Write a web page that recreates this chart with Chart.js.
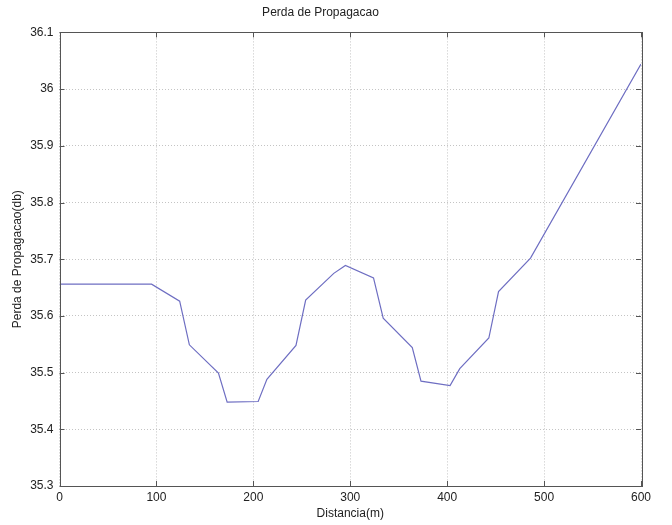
<!DOCTYPE html>
<html>
<head>
<meta charset="utf-8">
<script src="https://cdn.jsdelivr.net/npm/chart.js@4.4.1/dist/chart.umd.min.js"></script>
<style>
  html, body { margin: 0; padding: 0; background: #fff; }
  #wrap { width: 672px; height: 525px; }
</style>
</head>
<body>
<div id="wrap"><canvas id="grafico" width="672" height="525"></canvas></div>
<script>
// dados
var distancia = [0, 95, 124, 134, 164, 173, 205, 214, 244, 254, 283, 295, 324, 334, 364, 373, 403, 413, 443, 453, 486, 600];
var perda = [35.656, 35.656, 35.626, 35.549, 35.499, 35.448, 35.449, 35.488, 35.548, 35.628, 35.675, 35.689,
             35.667, 35.596, 35.544, 35.485, 35.477, 35.507, 35.561, 35.643, 35.702, 36.044];
var xTicks = [0, 100, 200, 300, 400, 500, 600];
var yTicks = [35.3, 35.4, 35.5, 35.6, 35.7, 35.8, 35.9, 36, 36.1];

var fonte = "'Liberation Sans', Arial, sans-serif";
var corTexto = "#222";

var pontos = distancia.map(function (d, i) { return { x: d, y: perda[i] }; });

// caixa e marcas internas estilo matlab
var caixaPlugin = {
    id: "caixa",
    afterDraw: function (chart) {
        var ctx = chart.ctx, a = chart.chartArea;
        var sx = chart.scales.x, sy = chart.scales.y;
        ctx.save();
        ctx.strokeStyle = "#555";
        ctx.lineWidth = 1;
        ctx.setLineDash([]);
        ctx.strokeRect(Math.round(a.left) + 0.5, Math.round(a.top) + 0.5,
            Math.round(a.right - a.left), Math.round(a.bottom - a.top));
        ctx.beginPath();
        xTicks.forEach(function (t) {
            var px = Math.round(sx.getPixelForValue(t)) + 0.5;
            ctx.moveTo(px, a.bottom); ctx.lineTo(px, a.bottom - 5);
            ctx.moveTo(px, a.top); ctx.lineTo(px, a.top + 5);
        });
        yTicks.forEach(function (t) {
            var py = Math.round(sy.getPixelForValue(t)) + 0.5;
            ctx.moveTo(a.left, py); ctx.lineTo(a.left + 5, py);
            ctx.moveTo(a.right, py); ctx.lineTo(a.right - 5, py);
        });
        ctx.stroke();
        ctx.restore();
    }
};

var ctx = document.getElementById("grafico");
var grafico = new Chart(ctx, {
    type: "scatter",
    data: {
        datasets: [{
            label: "Perda",
            data: pontos,
            showLine: true,
            borderColor: "#6e6ec2",
            backgroundColor: "#6e6ec2",
            borderWidth: 1.2,
            pointRadius: 0,
            tension: 0
        }]
    },
    options: {
        responsive: false,
        animation: false,
        layout: { padding: { left: 0, right: 31, top: 0, bottom: 0 } },
        plugins: {
            legend: { display: false },
            tooltip: { enabled: false },
            title: {
                display: true,
                text: "Perda de Propagacao",
                color: corTexto,
                font: { family: fonte, size: 12, weight: "normal" },
                padding: { top: 5, bottom: 13 }
            }
        },
        scales: {
            x: {
                type: "linear",
                min: 0, max: 600,
                afterBuildTicks: function (s) { s.ticks = xTicks.map(function (v) { return { value: v }; }); },
                ticks: { color: corTexto, font: { family: fonte, size: 12 }, padding: 4, maxRotation: 0 },
                grid: { color: "#c4c4c4", drawTicks: false },
                border: { display: false, dash: [1, 2] },
                title: { display: true, text: "Distancia(m)", color: corTexto, font: { family: fonte, size: 12 }, padding: { top: 4, bottom: 4 } },
                afterFit: function (s) { s.height = 39; }
            },
            y: {
                type: "linear",
                min: 35.3, max: 36.1,
                afterBuildTicks: function (s) { s.ticks = yTicks.map(function (v) { return { value: v }; }); },
                ticks: {
                    color: corTexto, font: { family: fonte, size: 12 }, padding: 6,
                    callback: function (v) { return String(Number(v.toFixed(1))); }
                },
                grid: { color: "#c4c4c4", drawTicks: false },
                border: { display: false, dash: [1, 2] },
                title: { display: true, text: "Perda de Propagacao(db)", color: corTexto, font: { family: fonte, size: 12 }, padding: { top: 10, bottom: 0 } },
                afterFit: function (s) { s.width = 59.5; }
            }
        }
    },
    plugins: [caixaPlugin]
});
</script>
</body>
</html>
